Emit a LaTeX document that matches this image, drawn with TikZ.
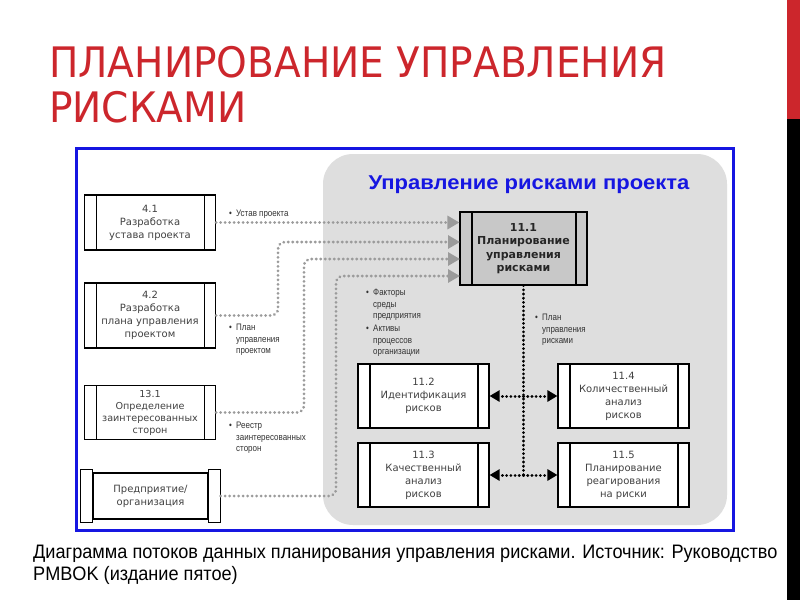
\documentclass[tikz,border=0pt]{standalone}
\usepackage{fontspec}
\setmainfont{Liberation Sans}
\newfontfamily\titlefont[FakeStretch=0.93]{DejaVu Sans}
\newfontfamily\capfont[FakeStretch=0.93]{Liberation Sans}
\newfontfamily\hdrfont[FakeStretch=1.1]{Liberation Sans}
\newfontfamily\boxfont{DejaVu Sans}
\newfontfamily\notefont[FakeStretch=0.85]{Liberation Sans}
\usetikzlibrary{arrows.meta,positioning}

\definecolor{titlered}{RGB}{204,38,44}
\definecolor{framebl}{RGB}{22,22,225}
\definecolor{zonegray}{RGB}{222,222,222}
\definecolor{flowgray}{RGB}{155,155,155}
\definecolor{boxtext}{RGB}{65,65,65}
\definecolor{mainfill}{RGB}{200,200,200}

\newcommand{\bul}{\makebox[7pt][l]{\textbullet}}
\newcommand{\ind}{\hspace*{7pt}}

\tikzset{
	% process boxes with the two side strips
	procbox/.style={draw=black, line width=1.1pt, fill=white, minimum width=131pt, inner sep=0pt,
		align=center, text=boxtext, font=\boxfont\fontsize{10}{13}\selectfont,
		path picture={
			\draw[line width=1.1pt] ([xshift=12pt]path picture bounding box.north west) -- ([xshift=12pt]path picture bounding box.south west);
			\draw[line width=1.1pt] ([xshift=-11pt]path picture bounding box.north east) -- ([xshift=-11pt]path picture bounding box.south east);
		}},
	entbar/.style={draw=black, line width=1.1pt, fill=white},
	% connectors
	flowline/.style={draw=flowgray, line width=3pt, line cap=round, dash pattern=on 0.1pt off 4.4pt,
		rounded corners=7pt, -{Triangle[length=12pt,width=13pt,fill=flowgray]}},
	riskline/.style={draw=black, line width=3pt, line cap=round, dash pattern=on 0.1pt off 4.1pt},
	risktip/.style={-{Triangle[length=10pt,width=11pt,fill=black]}},
	note/.style={anchor=north west, inner sep=0pt, align=left, text=black!80, font=\notefont\fontsize{9.4}{11.6}\selectfont}
}

\begin{document}
\begin{tikzpicture}[x=1pt,y=-1pt]
	\useasboundingbox (0,0) rectangle (800,600);
	\fill[white] (0,0) rectangle (800,600);
	\fill[titlered] (787,0) rectangle (800,119);
	\fill[black] (787,119) rectangle (800,600);

	% title and caption
	\node[anchor=base west, inner sep=0pt, text=titlered, font=\titlefont\fontsize{42}{45}\selectfont] (ttl1) at (49,77) {ПЛАНИРОВАНИЕ УПРАВЛЕНИЯ};
	\node[anchor=base west, inner sep=0pt, text=titlered, font=\titlefont\fontsize{42}{45}\selectfont] (ttl2) at (49,122) {РИСКАМИ};
	\node[anchor=base west, inner sep=0pt, font=\capfont\fontsize{19.5}{22}\selectfont] (cap1) at (33,558) {Диаграмма потоков данных планирования управления рисками. Источник: Руководство};
	\node[anchor=base west, inner sep=0pt, font=\capfont\fontsize{19.5}{22}\selectfont] (cap2) at (33,580) {PMBOK (издание пятое)};

	% frame and grey zone
	\draw[framebl, line width=3pt] (76,148) rectangle (733,530);
	\fill[zonegray, rounded corners=30pt] (323,154) rectangle (727,525);
	\node[anchor=base, inner sep=0pt, text=framebl, font=\hdrfont\bfseries\fontsize{20}{20}\selectfont] (hdr) at (529,189) {Управление рисками проекта};

	% outside processes
	\node[procbox, minimum height=55pt] (p41) at (150,222.5) {4.1\\Разработка\\устава проекта};
	\node[procbox, minimum height=65pt] (p42) at (150,315.5) {4.2\\Разработка\\плана управления\\проектом};
	\node[procbox, minimum height=54pt, font=\boxfont\fontsize{9.6}{12}\selectfont] (p131) at (150,412.5) {13.1\\Определение\\заинтересованных\\сторон};
	\node[draw=black, line width=1.1pt, fill=white, minimum width=115pt, minimum height=46pt, inner sep=0pt,
		align=center, text=boxtext, font=\boxfont\fontsize{10}{13}\selectfont] (ent) at (150.5,496) {Предприятие/\\организация};
	\draw[entbar] ([yshift=3pt]ent.north west) rectangle ([xshift=-12pt,yshift=-3pt]ent.south west);
	\draw[entbar] ([yshift=3pt]ent.north east) rectangle ([xshift=12pt,yshift=-3pt]ent.south east);

	% risk processes
	\node[procbox, fill=mainfill, minimum width=127pt, minimum height=73pt, text=black!85,
		font=\boxfont\bfseries\fontsize{11}{13.5}\selectfont] (p111) at (523.5,248.5) {11.1\\Планирование\\управления\\рисками};
	\node[procbox, minimum height=64pt] (p112) at (423.5,396) {11.2\\Идентификация\\рисков};
	\node[procbox, minimum height=64pt] (p114) at (623.5,396) {11.4\\Количественный\\анализ\\рисков};
	\node[procbox, minimum height=64pt] (p113) at (423.5,475) {11.3\\Качественный\\анализ\\рисков};
	\node[procbox, minimum height=64pt] (p115) at (623.5,475) {11.5\\Планирование\\реагирования\\на риски};

	% inputs of 11.1
	\coordinate (in1) at (p111.west |- p41.east);
	\coordinate (in2) at (460,242);
	\coordinate (in3) at (460,259);
	\coordinate (in4) at (460,276);
	\draw[flowline] (p41.east) -- (in1);
	\draw[flowline] (p42.east) -| (278,0 |- in2) -- (in2);
	\draw[flowline] (p131.east) -| (304,0 |- in3) -- (in3);
	\draw[flowline] (ent.east) ++(12pt,0) -| (336,0 |- in4) -- (in4);

	% output of 11.1
	\coordinate (jn1) at (p111.south |- p112.east);
	\coordinate (jn2) at (p111.south |- p113.east);
	\draw[riskline] (p111.south) -- (jn2);
	\draw[riskline, risktip] (jn1) -- (p112.east);
	\draw[riskline, risktip] (jn1) -- (p114.west);
	\draw[riskline, risktip] (jn2) -- (p113.east);
	\draw[riskline, risktip] (jn2) -- (p115.west);

	% labels
	\node[note, anchor=base west] (l41) at (229,216) {\bul Устав проекта};
	\node[note] (l42) at (229,324) {\bul План\\\ind управления\\\ind проектом};
	\node[note] (l131) at (229,422) {\bul Реестр\\\ind заинтересованных\\\ind сторон};
	\node[note] (lent) at (366,289) {\bul Факторы\\\ind среды\\\ind предприятия\\[1pt]\bul Активы\\\ind процессов\\\ind организации};
	\node[note] (l111) at (535,314) {\bul План\\\ind управления\\\ind рисками};
\end{tikzpicture}
\end{document}
